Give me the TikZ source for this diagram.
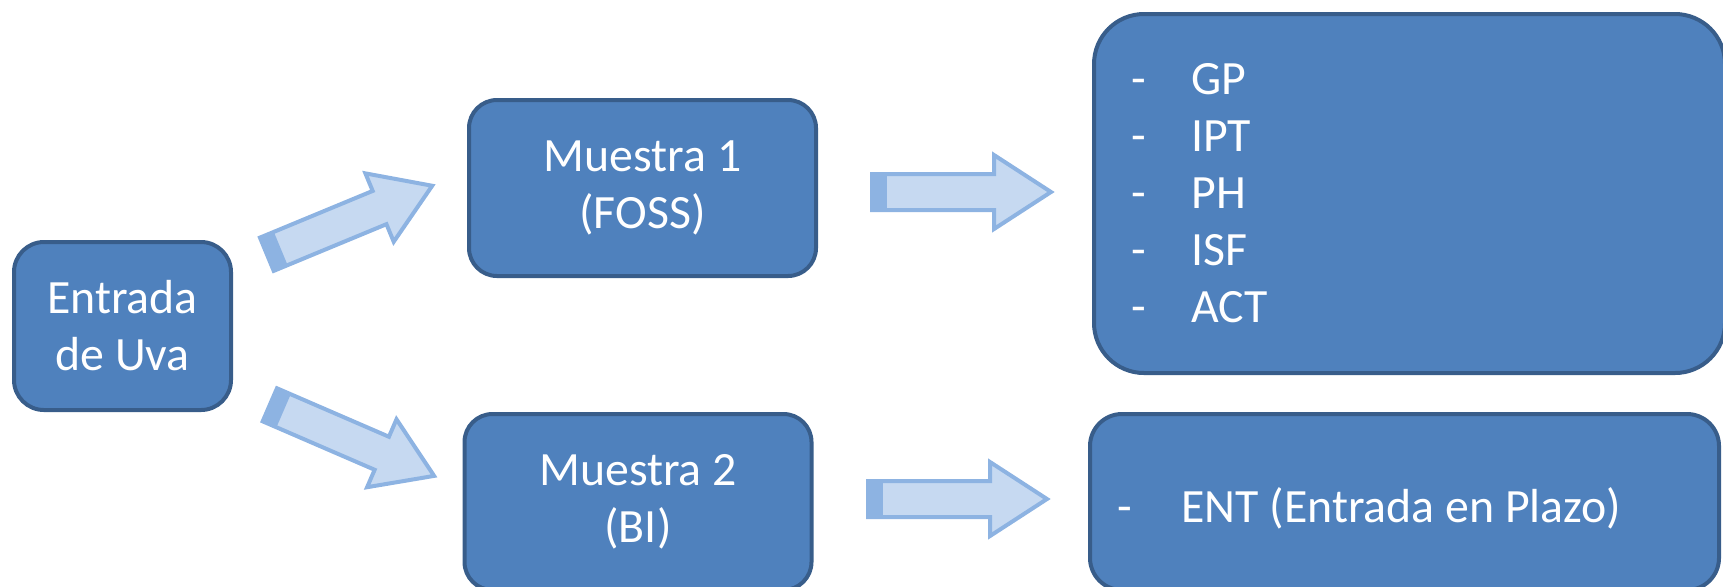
\documentclass[tikz,border=0pt]{standalone}
\usepackage{fontspec}
\setmainfont{Carlito}
\definecolor{boxfill}{HTML}{4F81BD}
\definecolor{boxline}{HTML}{385D8A}
\definecolor{arrfill}{HTML}{C6D9F1}
\definecolor{arrline}{HTML}{8DB3E2}

\begin{document}
\begin{tikzpicture}[
        x=0.5pt, y=-0.5pt,
        box/.style={draw=boxline, line width=2pt, fill=boxfill, text=white,
            rounded corners=#1, inner sep=0pt, align=center,
            font=\fontsize{23.9}{28.5}\selectfont},
        box/.default=14pt,
        listtext/.style={text=white, inner sep=0pt, align=left,
            font=\fontsize{23.9}{28.5}\selectfont},
        bigarrow/.pic={
            \fill[arrfill] (2,-18) -- (124,-18) -- (124,-37) -- (181,0) -- (124,37) -- (124,18) -- (2,18) -- cycle;
            \fill[arrline] (2,-18) rectangle (17,18);
            \draw[arrline, line width=2pt] (2,-18) -- (124,-18) -- (124,-37) -- (181,0) -- (124,37) -- (124,18) -- (2,18) -- cycle;
        }
    ]
    \useasboundingbox (0,0) rectangle (1723,586);

    % boxes
    \node[box=15pt, minimum width=108.5pt, minimum height=84pt] (uva) at (122.5,326) {Entrada\\de Uva};
    \node[box, minimum width=173.5pt, minimum height=88pt] (m1) at (642.5,188) {Muestra 1\\(FOSS)};
    \node[box, minimum width=173.5pt, minimum height=88pt] (m2) at (638,502) {Muestra 2\\(BI)};
    \node[box=25pt, minimum width=315.5pt, minimum height=179.5pt] (res1) at (1409.5,193.5) {};
    \node[box=16pt, minimum width=314.5pt, minimum height=88pt] (res2) at (1404.5,502) {};

    \node[listtext, anchor=west] (lst1) at ([xshift=19.5pt]res1.west) {%
        \makebox[30pt][l]{-}GP\\
        \makebox[30pt][l]{-}IPT\\
        \makebox[30pt][l]{-}PH\\
        \makebox[30pt][l]{-}ISF\\
        \makebox[30pt][l]{-}ACT};
    \node[listtext, anchor=base west] (lst2) at ([shift={(29,20)}]res2.west) {\makebox[32pt][l]{-}ENT (Entrada en Plazo)};

    % block arrows
    \pic[rotate=22.5] at ([shift={(32,-71)}]uva.east) {bigarrow};
    \pic[rotate=-23.4] at ([shift={(35,78)}]uva.east) {bigarrow};
    \pic at ([shift={(52,4)}]m1.east) {bigarrow};
    \pic at ([shift={(52.5,-3)}]m2.east) {bigarrow};
\end{tikzpicture}
\end{document}
